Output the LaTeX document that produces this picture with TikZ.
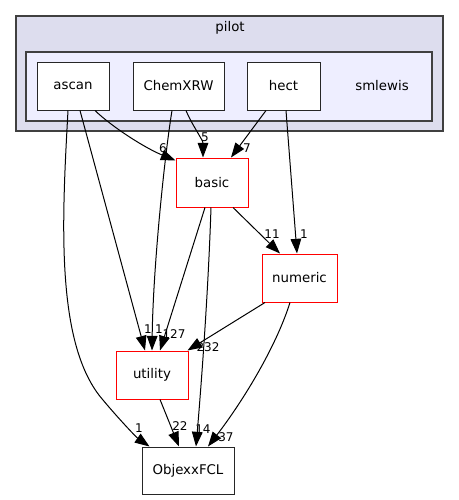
\documentclass[tikz,border=0pt]{standalone}
\usepackage{fontspec}
\setmainfont{DejaVu Sans}
\usetikzlibrary{arrows.meta,calc}
\definecolor{clout}{HTML}{DDDDEE}
\definecolor{clin}{HTML}{EEEEFF}
\definecolor{bord}{HTML}{404040}
\begin{document}
\begin{tikzpicture}[x=0.75pt,y=-0.75pt,
  box/.style={draw=black!85,fill=white,line width=0.75pt,inner sep=0pt,minimum height=36pt,font=\fontsize{10pt}{12pt}\selectfont},
  redbox/.style={draw=red,fill=white,line width=0.75pt,inner sep=0pt,minimum height=36pt,font=\fontsize{10pt}{12pt}\selectfont},
  edge/.style={draw=black,line width=0.75pt,-{Triangle[length=11pt,width=8pt]}},
  lab/.style={font=\fontsize{9pt}{9pt}\selectfont,inner sep=0pt}]
\useasboundingbox (0,0) rectangle (459,500);
\fill[white] (0,0) rectangle (459,500);
% clusters
\draw[draw=bord,fill=clout,line width=0.8pt] (16,16) rectangle (443,131);
\node[font=\fontsize{10pt}{12pt}\selectfont] (pilotlab) at (230,28) {pilot};
\draw[draw=bord,fill=clin,line width=0.8pt] (26,52) rectangle (432,121);
\node[font=\fontsize{10pt}{12pt}\selectfont] (smlab) at (382,86) {smlewis};
% nodes
\node[box,minimum width=54pt] (ascan) at (73,86) {ascan};
\node[box,minimum width=68.25pt] (chem) at (178.5,86) {ChemXRW};
\node[box,minimum width=54.75pt] (hect) at (283.5,86) {hect};
\node[redbox,minimum width=54pt,minimum height=36.75pt] (basic) at (212,182.5) {basic};
\node[redbox,minimum width=56.25pt] (numeric) at (299.5,278) {numeric};
\node[redbox,minimum width=54pt] (utility) at (152,375) {utility};
\node[box,minimum width=69pt,minimum height=35.25pt] (objx) at (188,470.5) {ObjexxFCL};
% edges
\draw[edge] ($(ascan.south)+(22,0)$) .. controls (112,127) and (145,148) .. ($(basic.north west)+(0,3)$);
\node[lab] (l1) at (163,148) {6};
\draw[edge] ($(ascan.south)+(7,0)$) -- ($(utility.north)+(-7,0)$);
\node[lab] (l2) at (148,329) {1};
\draw[edge] ($(ascan.south)+(-5,0)$) .. controls (62,220) and (55,345) .. (103,400) .. controls (118,418) and (136,437) .. ($(objx.north west)+(8,0)$);
\node[lab] (l3) at (139,428) {1};
\draw[edge] ($(chem.south)+(7.5,0)$) .. controls (192,125) and (203,140) .. ($(basic.north)+(-9,0)$);
\node[lab] (l4) at (205,137) {5};
\draw[edge] ($(chem.south)+(-6.5,0)$) .. controls (164,160) and (153,270) .. ($(utility.north)+(0,0)$);
\node[lab] (l5) at (159,329) {1};
\draw[edge] ($(hect.south)+(-17.5,0)$) -- ($(basic.north)+(19,0)$);
\node[lab] (l6) at (247,148) {7};
\draw[edge] ($(hect.south)+(2.5,0)$) -- ($(numeric.north)+(-2.5,0)$);
\node[lab] (l7) at (304,234) {1};
\draw[edge] ($(basic.south)+(21,0)$) -- ($(numeric.north)+(-19.5,0)$);
\node[lab] (l8) at (272,234) {11};
\draw[edge] ($(basic.south)+(-7,0)$) -- ($(utility.north)+(8,0)$);
\node[lab] (l9) at (174,334) {127};
\draw[edge] ($(basic.south)+(-1,0)$) .. controls (208,300) and (200,400) .. ($(objx.north)+(8,0)$);
\node[lab] (l10) at (203,429) {14};
\draw[edge] ($(numeric.south)+(-34.5,0)$) -- ($(utility.north east)+(-1,0)$);
\node[lab] (l11) at (208,347) {232};
\draw[edge] ($(numeric.south)+(-9.5,0)$) .. controls (275,350) and (240,405) .. ($(objx.north)+(20,0)$);
\node[lab] (l12) at (226,437) {37};
\draw[edge] ($(utility.south)+(8,0)$) -- ($(objx.north)+(-9,0)$);
\node[lab] (l13) at (180,426) {22};
\end{tikzpicture}
\end{document}
